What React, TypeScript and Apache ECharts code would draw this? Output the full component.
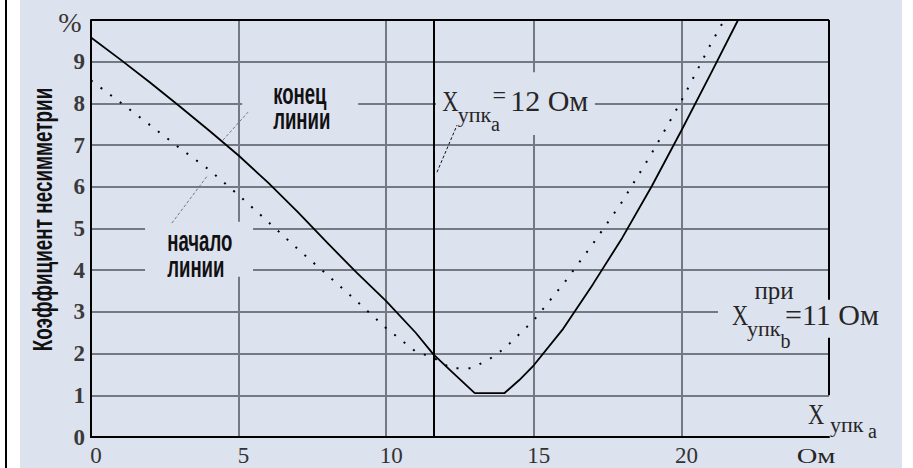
import React, { useEffect, useRef } from "react";
import * as echarts from "echarts";

// ---- data ----
const xMin = 0;
const xMax = 25;
const xInterval = 5;
const yMin = 0;
const yMax = 10;
const yInterval = 1;
const yAxisTitle = "Коэффициент несимметрии";
const yUnit = "%";
const xUnit = "Ом";

// "конец линии" curve (solid)
const solidX = [0, 1, 2, 3, 4, 5, 6, 7, 8, 9, 10, 11, 11.6, 12.2, 13, 14, 14.5, 15, 16, 17, 18, 19, 20, 21, 21.92];
const solidY = [9.58, 9.05, 8.5, 7.93, 7.35, 6.75, 6.1, 5.4, 4.66, 3.94, 3.26, 2.5, 1.98, 1.58, 1.05, 1.05, 1.36, 1.72, 2.6, 3.66, 4.78, 6.02, 7.35, 8.72, 10.0];

// "начало линии" curve (dotted)
const dottedX = [0, 1, 2, 3, 4, 5, 6, 7, 8, 9, 10, 11, 11.6, 12.2, 12.9, 13.5, 14, 15, 16, 17, 18, 19, 20, 21, 21.45];
const dottedY = [8.55, 8.02, 7.48, 6.93, 6.41, 5.8, 5.16, 4.51, 3.89, 3.26, 2.61, 2.05, 1.9, 1.65, 1.65, 1.87, 2.12, 2.8, 3.67, 4.63, 5.65, 6.81, 8.06, 9.43, 10.0];

const markerX = 11.6; // X_упк_a = 12 Ом vertical line

export default function App() {
  const ref = useRef<HTMLDivElement>(null);
  useEffect(() => {
    const chart = echarts.init(ref.current!, null, { renderer: "svg" });
    const GRID = "#747983";
    const BG = "#dde2ef";
    const SERIF = "'Liberation Serif', 'Times New Roman', serif";
    const SANS = "'Liberation Sans', Arial, sans-serif";
    const TXT = "#262626";

    chart.setOption({
      animation: false,
      grid: { left: 91, top: 20, right: 84, bottom: 31 },
      xAxis: {
        type: "value",
        min: xMin,
        max: xMax,
        interval: xInterval,
        axisLine: { show: true, onZero: false, lineStyle: { color: "#000", width: 2 } },
        axisTick: { show: false },
        splitLine: { show: true, showMinLine: false, showMaxLine: false, lineStyle: { color: GRID, width: 2 } },
        axisLabel: {
          margin: 7,
          color: "#333",
          fontFamily: SERIF,
          fontSize: 23,
          padding: [0, 0, 0, 10],
          formatter: (v: number) => (v === xMax ? "" : String(v)),
        },
      },
      yAxis: {
        type: "value",
        min: yMin,
        max: yMax,
        interval: yInterval,
        axisLine: { show: true, lineStyle: { color: "#000", width: 2 } },
        axisTick: { show: false },
        splitLine: { show: true, showMinLine: false, showMaxLine: false, lineStyle: { color: GRID, width: 2 } },
        axisLabel: {
          margin: 6,
          color: "#3a3a3a",
          fontFamily: SERIF,
          fontWeight: "bold",
          fontSize: 23,
          padding: [4, 0, 0, 0],
          formatter: (v: number) => (v === yMax ? "" : String(v)),
        },
      },
      series: [
        {
          name: "конец линии",
          type: "line",
          data: solidX.map((x, i) => [x, solidY[i]]),
          symbol: "none",
          lineStyle: { color: "#000", width: 1.8 },
          z: 4,
          markLine: {
            silent: true,
            symbol: ["none", "none"],
            label: { show: false },
            lineStyle: { color: "#000", width: 2, type: "solid" },
            emphasis: { disabled: true },
            data: [
              { xAxis: markerX },
              { yAxis: yMax },
              [{ coord: [xMax, yMax] }, { coord: [xMax, 3.29] }],
              [{ coord: [xMax, 2.38] }, { coord: [xMax, 1] }],
            ],
          },
        },
        {
          name: "начало линии",
          type: "line",
          data: dottedX.map((x, i) => [x, dottedY[i]]),
          symbol: "none",
          lineStyle: { color: "#000", width: 2, type: [2, 10] },
          z: 4,
        },
      ],
    });

    const p = (x: number, y: number) => chart.convertToPixel({ gridIndex: 0 }, [x, y]) as number[];
    const box = (x1: number, y1: number, x2: number, y2: number) => {
      const a = p(x1, y1);
      const b = p(x2, y2);
      return {
        type: "rect",
        z: 1,
        silent: true,
        shape: { x: a[0], y: a[1], width: b[0] - a[0], height: b[1] - a[1] },
        style: { fill: BG },
      };
    };
    const leader = (x1: number, y1: number, x2: number, y2: number, color: string) => {
      const a = p(x1, y1);
      const b = p(x2, y2);
      return {
        type: "line",
        z: 3,
        silent: true,
        shape: { x1: a[0], y1: a[1], x2: b[0], y2: b[1] },
        style: { stroke: color, lineWidth: 1, lineDash: [3, 2] },
      };
    };
    const at = (
      px: number,
      py: number,
      text: string,
      font: string,
      align: string = "left",
      extra: any = {}
    ) => ({
      type: "text",
      z: 5,
      silent: true,
      x: px,
      y: py,
      ...extra,
      style: { text, font, fill: TXT, align, verticalAlign: "middle", ...(extra.style || {}) },
    });
    const txt = (x: number, y: number, text: string, font: string, align: string = "left", extra: any = {}) => {
      const a = p(x, y);
      return at(a[0], a[1], text, font, align, extra);
    };
    const f = (size: number, fam: string, w = "normal") => `${w} ${size}px ${fam}`;
    const origin = p(xMin, yMin);
    const corner = p(xMax, yMax);
    const mid = p(xMin, (yMin + yMax) / 2);

    chart.setOption({
      graphic: [
        // gaps in the grid behind the labels
        box(5.12, 8.68, 9.05, 7.24),
        box(1.83, 5.16, 5.49, 3.84),
        box(11.69, 8.75, 17.07, 7.24),
        box(21.24, 3.29, 25.1, 2.38),
        // leader lines
        leader(4.47, 7.12, 5.32, 7.79, "#777"),
        leader(2.74, 5.13, 3.96, 6.28, "#777"),
        leader(11.72, 6.35, 12.4, 7.48, "#111"),
        // "конец линии" / "начало линии"
        txt(6.17, 7.94, "конец\nлинии", f(30, SANS, "bold"), "left", {
          scaleX: 0.62,
          style: { fill: "#111", lineHeight: 25 },
        }),
        txt(2.58, 4.41, "начало\nлинии", f(30, SANS, "bold"), "left", {
          scaleX: 0.62,
          style: { fill: "#111", lineHeight: 26 },
        }),
        // X_упк_a = 12 Ом
        txt(11.9, 8.07, "X", f(30, SERIF), "left", { scaleX: 0.75 }),
        txt(12.42, 7.74, "упк", f(22, SERIF)),
        txt(13.55, 7.5, "a", f(20, SERIF)),
        txt(13.6, 8.2, "=", f(24, SERIF)),
        txt(14.2, 8.07, "12 Ом", f(30, SERIF)),
        // при X_упк_b = 11 Ом
        txt(23.14, 3.52, "при", f(25, SERIF), "center", { style: { lineHeight: 22 } }),
        txt(21.71, 2.92, "X", f(30, SERIF), "left", { scaleX: 0.75, style: { lineHeight: 24 } }),
        txt(22.22, 2.6, "упк", f(22, SERIF), "left", { style: { lineHeight: 20 } }),
        txt(23.36, 2.3, "b", f(20, SERIF), "left", { style: { lineHeight: 16 } }),
        txt(23.51, 2.94, "=11 Ом", f(30, SERIF), "left", { style: { lineHeight: 21 } }),
        // axis units
        at(corner[0] - 21, origin[1] - 23, "X", f(30, SERIF), "left", { scaleX: 0.75 }),
        at(corner[0] + 1, origin[1] - 13, "упк", f(22, SERIF)),
        at(corner[0] + 39, origin[1] - 6, "a", f(20, SERIF)),
        at(corner[0] - 13, origin[1] + 19, xUnit, f(22, SERIF), "center", { scaleX: 1.3, style: { lineHeight: 16 } }),
        at(origin[0] - 21, corner[1] + 2, yUnit, f(28, SERIF), "center", { style: { fill: "#3a3530" } }),
        // y axis title
        at(origin[0] - 48, mid[1] - 9, yAxisTitle, f(27, SANS, "bold"), "center", {
          rotation: Math.PI / 2,
          scaleX: 0.7,
          style: { fill: "#111" },
        }),
      ],
    });

    return () => chart.dispose();
  }, []);

  return (
    <div style={{ position: "fixed", left: 0, top: 0, width: 913, height: 468, background: "#fff", overflow: "hidden" }}>
      <div style={{ position: "absolute", left: 5, top: 0, width: 1.5, height: 468, background: "#000" }} />
      <div style={{ position: "absolute", left: 20, top: 0, width: 882, height: 468, background: "#dde2ef" }} />
      <div ref={ref} style={{ position: "absolute", left: 0, top: 0, width: 913, height: 468 }} />
    </div>
  );
}
